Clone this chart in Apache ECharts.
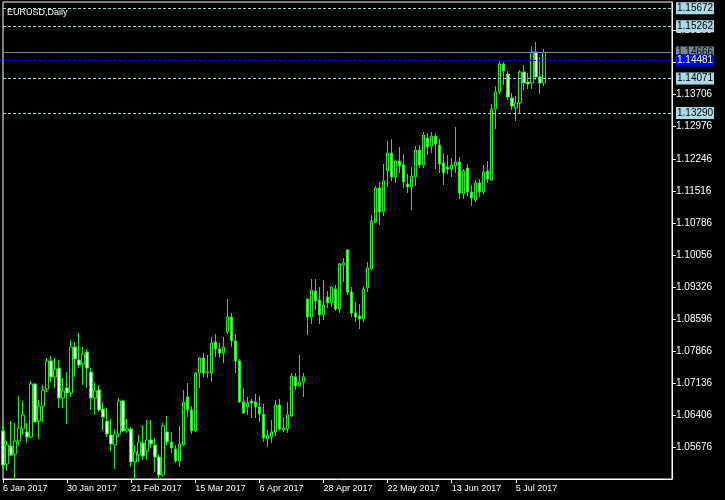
<!DOCTYPE html>
<html><head><meta charset="utf-8">
<script src="https://cdn.jsdelivr.net/npm/echarts@6/dist/echarts.min.js"></script>
<style>html,body{margin:0;padding:0;background:#000;}#c{width:725px;height:500px;}</style>
</head><body><div id="c"></div>
<script>
const chartTitle = 'EURUSD,Daily';
const xTickLabels = ['6 Jan 2017','30 Jan 2017','21 Feb 2017','15 Mar 2017','6 Apr 2017','28 Apr 2017','22 May 2017','13 Jun 2017','5 Jul 2017'];
const barsPerLabel = 16;
const totalSlots = 168;
const yTicks = [1.05676,1.06406,1.07136,1.07866,1.08596,1.09326,1.10056,1.10786,1.11516,1.12246,1.12976,1.13706,1.14436,1.15166];
const yMin = 1.04964, yMax = 1.15812;

const opens = [
1.06056,1.05305,1.05715,1.05533,1.05828,1.06101,1.06033,1.05919,1.07125,1.06283,
1.06624,1.07011,1.07648,1.07284,1.07488,1.06806,1.07034,1.06920,1.07966,1.07670,
1.07579,1.07852,1.07397,1.06806,1.06988,1.06556,1.06283,1.05965,1.05737,1.05987,
1.06738,1.06056,1.06101,1.05351,1.05510,1.05783,1.05601,1.05851,1.05737,1.05464,
1.05055,1.06033,1.05806,1.05646,1.05373,1.05737,1.06829,1.06533,1.06056,1.07375,
1.07716,1.07375,1.07375,1.08080,1.07920,1.07829,1.08307,1.08648,1.08102,1.07648,
1.06715,1.06601,1.06738,1.06715,1.06601,1.06442,1.05874,1.05919,1.06033,1.06647,
1.06078,1.06101,1.06397,1.07284,1.07079,1.07170,1.09057,1.08648,1.09239,1.09035,
1.08694,1.09103,1.08967,1.09285,1.08830,1.09831,1.10172,1.09217,1.08739,1.08671,
1.08603,1.09308,1.09740,1.10809,1.11582,1.11036,1.11968,1.12378,1.11832,1.12196,
1.12105,1.11673,1.11604,1.11832,1.12446,1.12105,1.12719,1.12537,1.12764,1.12560,
1.12150,1.12059,1.12014,1.12082,1.12173,1.11445,1.12037,1.11491,1.11309,1.11695,
1.11491,1.11968,1.11764,1.13378,1.13765,1.14402,1.14174,1.13628,1.13401,1.13515,
1.14220,1.13992,1.13970,1.14675,1.14106,1.13970];
const closes = [
1.05282,1.05737,1.05510,1.05828,1.06124,1.06420,1.05919,1.07125,1.06260,1.06624,
1.06988,1.07648,1.07284,1.07466,1.06806,1.06965,1.06920,1.07966,1.07693,1.07557,
1.07807,1.07488,1.06806,1.06965,1.06533,1.06374,1.05987,1.05760,1.05987,1.06738,
1.06056,1.06101,1.05351,1.05578,1.05806,1.05487,1.05851,1.05760,1.05464,1.05055,
1.06169,1.05806,1.05669,1.05373,1.05760,1.06715,1.06533,1.06056,1.07375,1.07716,
1.07375,1.07397,1.08057,1.07920,1.07829,1.07966,1.08648,1.08102,1.07648,1.06715,
1.06465,1.06692,1.06692,1.06601,1.06442,1.05896,1.05965,1.06033,1.06647,1.06101,
1.06124,1.06420,1.07306,1.07079,1.07170,1.07284,1.08648,1.09262,1.09012,1.08694,
1.08921,1.08967,1.09330,1.08830,1.09853,1.09876,1.09217,1.08739,1.08648,1.08603,
1.09285,1.09762,1.10831,1.11582,1.11036,1.11741,1.12378,1.11832,1.12196,1.12082,
1.11718,1.11604,1.11855,1.12446,1.12105,1.12787,1.12514,1.12764,1.12582,1.12128,
1.11923,1.12014,1.12105,1.12173,1.11468,1.11968,1.11491,1.11354,1.11695,1.11491,
1.11946,1.11786,1.13378,1.13765,1.14402,1.14242,1.13651,1.13447,1.13515,1.14220,
1.13970,1.13947,1.14675,1.14106,1.13970,1.14666];
const lows = [
1.05214,1.05146,1.05487,1.04964,1.05715,1.05965,1.05783,1.05896,1.06260,1.05874,
1.06260,1.06943,1.07170,1.07034,1.06579,1.06579,1.06215,1.06829,1.07284,1.07488,
1.07102,1.07034,1.06533,1.06420,1.06488,1.06056,1.05919,1.05601,1.05192,1.05919,
1.06033,1.06010,1.05237,1.04964,1.05351,1.05396,1.05396,1.05669,1.05123,1.04987,
1.05010,1.05737,1.05555,1.05328,1.05237,1.05715,1.06374,1.05987,1.06033,1.07034,
1.07284,1.07261,1.07170,1.07738,1.07716,1.07602,1.08262,1.07966,1.07375,1.06692,
1.06442,1.06420,1.06351,1.06351,1.06260,1.05806,1.05692,1.05783,1.05942,1.06056,
1.06033,1.06010,1.06374,1.06988,1.07056,1.06829,1.08239,1.08489,1.08807,1.08489,
1.08580,1.08853,1.08876,1.08785,1.08739,1.09444,1.09148,1.08648,1.08534,1.08375,
1.08534,1.09217,1.09717,1.10786,1.10740,1.10945,1.11604,1.11741,1.11695,1.11923,
1.11582,1.11468,1.11081,1.11627,1.12037,1.12037,1.12332,1.12378,1.12014,1.11923,
1.11650,1.11900,1.11832,1.11923,1.11332,1.11332,1.11400,1.11172,1.11263,1.11377,
1.11445,1.11695,1.11741,1.12923,1.13719,1.13924,1.13583,1.13356,1.13105,1.13287,
1.13810,1.13833,1.13833,1.14038,1.13719,1.13901];
const highs = [
1.06169,1.05828,1.06283,1.06238,1.06852,1.06738,1.06238,1.07193,1.07147,1.06761,
1.07102,1.07716,1.07761,1.07716,1.07670,1.07261,1.07397,1.08125,1.08080,1.08284,
1.07966,1.07920,1.07488,1.07147,1.07102,1.06692,1.06579,1.06329,1.06101,1.06806,
1.06761,1.06329,1.06147,1.05737,1.05965,1.06192,1.06306,1.06306,1.05896,1.05510,
1.06238,1.06397,1.06033,1.05737,1.06169,1.06988,1.07147,1.06624,1.07397,1.07738,
1.07829,1.07784,1.08193,1.08262,1.08057,1.08193,1.09057,1.08739,1.08262,1.07693,
1.07034,1.06829,1.06783,1.06897,1.06852,1.06670,1.06078,1.06306,1.06761,1.06783,
1.06374,1.06715,1.07375,1.07375,1.07784,1.07375,1.09080,1.09512,1.09512,1.09330,
1.09490,1.09239,1.09353,1.09376,1.09876,1.09990,1.10195,1.09330,1.08989,1.08944,
1.09353,1.09899,1.10968,1.11627,1.11718,1.12128,1.12651,1.12696,1.12218,1.12514,
1.12355,1.11900,1.12059,1.12537,1.12560,1.12855,1.12832,1.12855,1.12832,1.12696,
1.12378,1.12332,1.12264,1.12969,1.12287,1.12014,1.12128,1.11650,1.11764,1.11786,
1.12105,1.12196,1.13492,1.13901,1.14470,1.14447,1.14242,1.13742,1.13674,1.14265,
1.14379,1.14197,1.14811,1.14902,1.14561,1.14743];

const levelLines = [1.15672, 1.15262, 1.14071, 1.13290];
const bidPrice = 1.14666;
const bluePrice = 1.14481;

const FONT = 'Liberation Sans, Arial, sans-serif';
const cats = [];
for (let i = 0; i < totalSlots; i++) cats.push('b' + i);
const candles = opens.map((o, i) => [o, closes[i], lows[i], highs[i]]);
const isTick = (i) => i % barsPerLabel === 0 && i / barsPerLabel < xTickLabels.length;

const lblBase = {show: true, position: 'end', distance: 4, fontSize: 10, fontFamily: FONT,
  padding: [1, 1, 1, 1], lineHeight: 10, width: 36, align: 'left', formatter: p => Number(p.value).toFixed(5)};
const markData = [
  ...levelLines.map(v => ({yAxis: v, lineStyle: {color: '#add8e6', type: [3, 2], width: 1},
    label: Object.assign({}, lblBase, {backgroundColor: '#add8e6', color: '#000'})})),
  {yAxis: bidPrice, lineStyle: {color: '#778899', type: 'solid', width: 1},
    label: Object.assign({}, lblBase, {backgroundColor: '#778899', color: '#000'})},
  {yAxis: bluePrice, lineStyle: {color: '#0000ff', type: [3, 2], width: 1},
    label: Object.assign({}, lblBase, {backgroundColor: '#0000ff', color: '#fff'})}
];

const chart = echarts.init(document.getElementById('c'));
chart.setOption({
  backgroundColor: '#000',
  animation: false,
  title: {text: chartTitle, left: 2, top: 3, textStyle: {color: '#fff', fontSize: 9, fontWeight: 'normal', fontFamily: FONT}},
  grid: {left: 2, right: 53, top: 2, bottom: 21, show: true, borderColor: '#fff', borderWidth: 1},
  xAxis: {
    type: 'category', data: cats, boundaryGap: false, z: 0,
    axisLine: {lineStyle: {color: '#fff', width: 1}},
    axisTick: {show: true, length: 4, interval: (i) => isTick(i), lineStyle: {color: '#fff'}},
    axisLabel: {color: '#fff', fontSize: 9, fontFamily: FONT, align: 'left', margin: 5,
      interval: (i) => isTick(i),
      formatter: (v) => { const i = parseInt(v.slice(1)); return isTick(i) ? xTickLabels[i / barsPerLabel] : ''; }},
    splitLine: {show: false}
  },
  yAxis: {
    type: 'value', position: 'right', min: yMin, max: yMax, scale: true, z: 0,
    axisLine: {show: true, lineStyle: {color: '#fff', width: 1}},
    axisTick: {show: true, length: 4, customValues: yTicks, lineStyle: {color: '#fff'}},
    axisLabel: {color: '#fff', fontSize: 10, fontFamily: FONT, margin: 4, customValues: yTicks,
      formatter: v => Number(v).toFixed(5)},
    splitLine: {show: false}
  },
  series: [{
    type: 'candlestick',
    data: candles,
    barWidth: 3,
    clip: true,
    z: 3,
    itemStyle: {color: '#000000', color0: '#ffffff', borderColor: '#00ff00', borderColor0: '#00ff00', borderWidth: 1},
    markLine: {silent: true, z: 10, symbol: ['none', 'none'], precision: 5, animation: false, data: markData}
  }]
});
</script></body></html>
